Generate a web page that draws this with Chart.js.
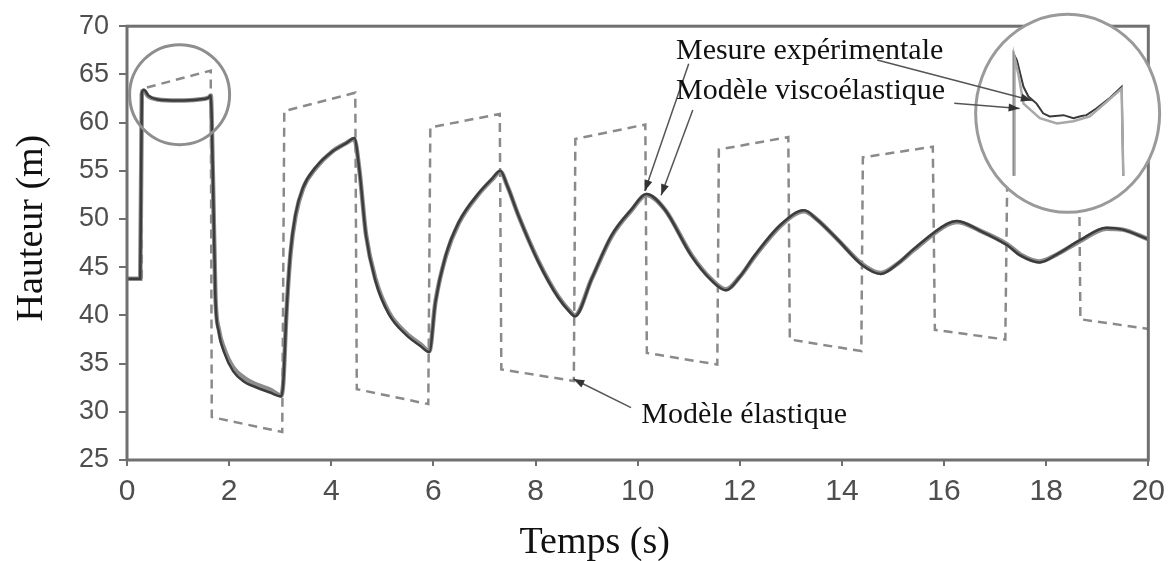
<!DOCTYPE html>
<html>
<head>
<meta charset="utf-8">
<script src="https://cdn.jsdelivr.net/npm/chart.js@4"></script>
<style>
  html, body { margin: 0; padding: 0; background: #fff; }
  #wrap { width: 1173px; height: 561px; }
</style>
</head>
<body>
<div id="wrap"><canvas id="chart" width="1173" height="561"></canvas></div>
<script>
// Temps (s) and Hauteur (m)
const measureT = [0, 0.26, 0.29, 0.33, 0.42, 0.6, 1.0, 1.4, 1.6, 1.64, 1.68, 1.73, 1.8, 1.9, 2.08, 2.3, 2.5, 2.8, 3.02, 3.06,
  3.12, 3.2, 3.3, 3.45, 3.7, 4.02, 4.3, 4.45, 4.55, 4.68, 4.87, 5.13, 5.46, 5.75, 5.92, 6.04, 6.24, 6.5, 6.89, 7.15,
  7.31, 7.45, 7.67, 8.06, 8.45, 8.68, 8.77, 9.1, 9.49, 9.88, 10.17, 10.53, 11.05, 11.45, 11.73, 12.0, 12.29, 12.8, 13.26, 13.5,
  13.91, 14.4, 14.76, 15.1, 15.41, 16.06, 16.25, 16.7, 17.23, 17.5, 17.87, 18.2, 18.66, 19.18, 19.5, 20];
const measureH = [43.8, 43.8, 63.0, 63.4, 62.8, 62.4, 62.3, 62.4, 62.6, 62.8, 55.0, 42.0, 38.2, 36.2, 34.2, 33.1, 32.6, 32.0, 31.6, 33.0,
  40.0, 46.5, 50.5, 53.3, 55.4, 57.0, 57.9, 58.4, 55.1, 48.3, 43.5, 40.1, 38.0, 36.8, 36.2, 41.4, 46.2, 49.7, 52.7, 54.2,
  55.0, 53.4, 50.3, 45.5, 41.8, 40.3, 39.9, 43.8, 48.3, 51.0, 52.6, 51.0, 46.2, 43.6, 42.6, 44.0, 46.2, 49.4, 50.9, 50.0,
  47.9, 45.2, 44.3, 45.4, 46.9, 49.5, 49.8, 48.8, 47.3, 46.2, 45.5, 46.3, 47.8, 49.1, 48.9, 47.9];
const viscoH = [43.8, 43.8, 63.0, 63.3, 62.7, 62.4, 62.3, 62.4, 62.6, 62.8, 55.0, 42.2, 38.5, 36.6, 34.6, 33.5, 32.9, 32.3, 31.7, 33.0,
  40.0, 46.3, 50.3, 53.2, 55.3, 57.0, 57.9, 58.3, 55.1, 48.4, 43.7, 40.3, 38.2, 37.0, 36.3, 41.4, 46.1, 49.6, 52.6, 54.1,
  54.9, 53.4, 50.3, 45.6, 41.9, 40.4, 40.0, 43.8, 48.2, 50.9, 52.5, 51.0, 46.3, 43.7, 42.7, 44.0, 46.1, 49.3, 50.8, 50.0,
  47.9, 45.3, 44.4, 45.4, 46.8, 49.4, 49.7, 48.8, 47.4, 46.3, 45.6, 46.3, 47.7, 49.0, 48.9, 47.9];
const elasticT = [0, 0.29, 0.29, 1.64, 1.66, 3.04, 3.08, 4.47, 4.5, 5.9, 5.94, 7.3, 7.33, 8.75, 8.78, 10.15, 10.18, 11.56, 11.59, 12.95,
  12.98, 14.38, 14.41, 15.78, 15.82, 17.2, 17.24, 18.64, 18.67, 20];
const elasticH = [43.8, 43.8, 63.5, 65.4, 29.45, 27.9, 61.2, 63.1, 32.35, 30.8, 59.5, 60.9, 34.4, 33.2, 58.3, 59.8, 36.1, 34.9, 57.2, 58.5,
  37.5, 36.3, 56.4, 57.5, 38.5, 37.5, 55.6, 57.0, 39.6, 38.6];
const xTicks = [0, 2, 4, 6, 8, 10, 12, 14, 16, 18, 20];
const yTicks = [25, 30, 35, 40, 45, 50, 55, 60, 65, 70];

// magnified first plateau (inset)
const zoomT = [0.29, 0.29, 0.33, 0.41, 0.47, 0.57, 0.65, 0.73, 0.90, 1.02, 1.12, 1.18, 1.30, 1.46, 1.61, 1.63];
const zoomMeasureH = [60.0, 64.0, 63.79, 62.92, 62.6, 62.37, 62.05, 61.95, 61.99, 61.89, 61.96, 61.99, 62.21, 62.54, 62.92, 60.0];
const zoomModelT = [0.30, 0.30, 0.35, 0.41, 0.61, 0.82, 1.02, 1.22, 1.43, 1.61, 1.63];
const zoomModelH = [60.0, 63.9, 63.3, 62.37, 61.89, 61.72, 61.79, 61.95, 62.44, 62.86, 60.0];

const pts = (xs, ys) => xs.map((x, i) => ({ x: x, y: ys[i] }));

// annotation anchors in (t, h)
const notes = [
  { text: 'Mesure expérimentale', t: 10.75, h: 66.6 },
  { text: 'Modèle viscoélastique', t: 10.75, h: 62.5 },
  { text: 'Modèle élastique', t: 10.07, h: 28.8 }
];
const arrows = [
  { from: [11.0, 66.1], to: [10.14, 52.9] },
  { from: [11.08, 61.3], to: [10.46, 52.46] },
  { from: [14.69, 66.5], to: [17.72, 62.3] },
  { from: [16.2, 62.0], to: [17.48, 61.47] },
  { from: [9.87, 30.44], to: [8.74, 33.4] }
];

const px = (chart, t, h) => ({ x: chart.scales.x.getPixelForValue(t), y: chart.scales.y.getPixelForValue(h) });

function drawFrame(chart) {
  const { ctx, chartArea: a } = chart;
  ctx.save();
  ctx.strokeStyle = '#707070';
  ctx.lineWidth = 3;
  ctx.strokeRect(a.left, a.top, a.right - a.left, a.bottom - a.top);
  ctx.restore();
}

function drawArrow(ctx, p, q) {
  const ang = Math.atan2(q.y - p.y, q.x - p.x);
  ctx.beginPath();
  ctx.moveTo(p.x, p.y);
  ctx.lineTo(q.x, q.y);
  ctx.stroke();
  ctx.beginPath();
  ctx.moveTo(q.x, q.y);
  ctx.lineTo(q.x - 11 * Math.cos(ang) + 4 * Math.sin(ang), q.y - 11 * Math.sin(ang) - 4 * Math.cos(ang));
  ctx.lineTo(q.x - 11 * Math.cos(ang) - 4 * Math.sin(ang), q.y - 11 * Math.sin(ang) + 4 * Math.cos(ang));
  ctx.closePath();
  ctx.fill();
}

const decor = {
  id: 'decor',
  beforeDraw(chart) { chart.$insetDone = false; },
  beforeDatasetDraw(chart, args) {
    const ds = chart.data.datasets[args.index];
    if (!ds.inset || chart.$insetDone) return;
    chart.$insetDone = true;
    drawFrame(chart);
    // white magnifier bubble
    const { ctx } = chart;
    const c = px(chart, 18.42, 60.96);
    ctx.save();
    ctx.beginPath();
    ctx.ellipse(c.x, c.y, 92, 99, 0, 0, Math.PI * 2);
    ctx.fillStyle = '#fff';
    ctx.fill();
    ctx.lineWidth = 3;
    ctx.strokeStyle = '#9a9a9a';
    ctx.stroke();
    ctx.restore();
  },
  afterDatasetsDraw(chart) {
    const { ctx, chartArea: a } = chart;
    ctx.save();
    // small circle on first plateau
    const c = px(chart, 1.03, 62.9);
    ctx.beginPath();
    ctx.arc(c.x, c.y, 50, 0, Math.PI * 2);
    ctx.lineWidth = 3;
    ctx.strokeStyle = '#8e8e8e';
    ctx.stroke();

    ctx.strokeStyle = '#555';
    ctx.fillStyle = '#333';
    ctx.lineWidth = 1.5;
    arrows.forEach(ar => drawArrow(ctx, px(chart, ar.from[0], ar.from[1]), px(chart, ar.to[0], ar.to[1])));

    ctx.fillStyle = '#111';
    ctx.font = '30px "Liberation Serif"';
    ctx.textAlign = 'left';
    ctx.textBaseline = 'alphabetic';
    notes.forEach(n => {
      const p = px(chart, n.t, n.h);
      ctx.fillText(n.text, p.x, p.y);
    });

    // axis titles
    ctx.font = '38px "Liberation Serif"';
    ctx.textAlign = 'center';
    ctx.fillText('Temps (s)', (a.left + a.right) / 2 - 43, a.bottom + 93);
    ctx.translate(42, (a.top + a.bottom) / 2 - 15);
    ctx.rotate(-Math.PI / 2);
    ctx.fillText('Hauteur (m)', 0, 0);
    ctx.restore();
  }
};

new Chart(document.getElementById('chart'), {
  type: 'line',
  data: {
    datasets: [
      { label: 'Modèle élastique', data: pts(elasticT, elasticH), borderColor: '#8a8a8a', borderWidth: 2.5,
        borderDash: [9, 6], pointRadius: 0, tension: 0, order: 3 },
      { label: 'Modèle viscoélastique', data: pts(measureT, viscoH), borderColor: '#8c8c8c', borderWidth: 4.5,
        pointRadius: 0, cubicInterpolationMode: 'monotone', order: 2 },
      { label: 'Mesure expérimentale', data: pts(measureT, measureH), borderColor: '#3c3c3c', borderWidth: 2.5,
        pointRadius: 0, cubicInterpolationMode: 'monotone', order: 1 },
      { label: 'zoom modèle', data: pts(zoomModelT, zoomModelH), xAxisID: 'xi', yAxisID: 'yi', inset: true,
        borderColor: '#a8a8a8', borderWidth: 2.5, pointRadius: 0, tension: 0, order: 0 },
      { label: 'zoom mesure', data: pts(zoomT, zoomMeasureH), xAxisID: 'xi', yAxisID: 'yi', inset: true,
        borderColor: '#3a3a3a', borderWidth: 2, pointRadius: 0, tension: 0, order: 0 }
    ]
  },
  options: {
    responsive: false,
    devicePixelRatio: 1,
    animation: false,
    layout: { padding: { top: 22, right: 21, left: 0, bottom: 0 } },
    plugins: { legend: { display: false }, tooltip: { enabled: false } },
    scales: {
      x: {
        type: 'linear', min: 0, max: 20,
        afterFit: s => { s.height = 101; },
        afterBuildTicks: s => { s.ticks = xTicks.map(v => ({ value: v })); },
        grid: { display: true, drawOnChartArea: false, drawTicks: true, tickLength: 6, color: '#707070', lineWidth: 2 },
        border: { display: false },
        ticks: { color: '#4e4e4e', padding: 8, maxRotation: 0, font: { family: 'Liberation Sans', size: 30 } }
      },
      y: {
        type: 'linear', min: 25, max: 70,
        afterFit: s => { s.width = 127; },
        afterBuildTicks: s => { s.ticks = yTicks.map(v => ({ value: v })); },
        grid: { display: true, drawOnChartArea: false, drawTicks: true, tickLength: 8, color: '#707070', lineWidth: 2 },
        border: { display: false },
        ticks: { color: '#4e4e4e', padding: 10, font: { family: 'Liberation Sans', size: 27 } }
      },
      xi: { type: 'linear', display: false, min: -10.55, max: 1.936 },
      yi: { type: 'linear', display: false, min: 50.67, max: 64.91 }
    }
  },
  plugins: [decor]
});
</script>
</body>
</html>
